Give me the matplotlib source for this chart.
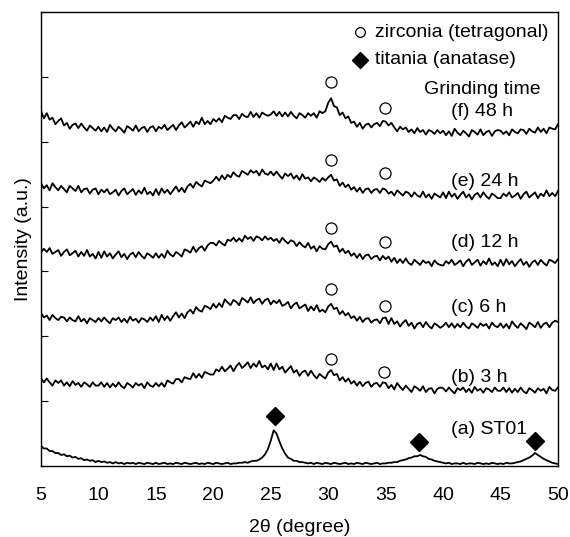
import numpy as np
import matplotlib
matplotlib.use("Agg")
import matplotlib.pyplot as plt

plt.rcParams['font.family'] = ['Liberation Sans', 'DejaVu Sans']

# 2-theta grid: 5.00 .. 50.00 every 0.25 degree
two_theta = np.arange(181) * 0.25 + 5.0

curve_a = [
    0.31,0.27,0.27,0.23,0.23,0.20,0.20,0.17,0.18,0.15,0.16,0.13,0.14,0.11,0.12,0.09,0.10,0.08,0.09,0.06,
    0.08,0.06,0.07,0.05,0.06,0.04,0.06,0.04,0.05,0.03,0.05,0.04,0.05,0.03,0.05,0.04,0.03,0.05,0.04,0.03,
    0.05,0.03,0.04,0.05,0.03,0.04,0.03,0.05,0.04,0.03,0.05,0.04,0.03,0.04,0.05,0.03,0.04,0.03,0.05,0.04,
    0.03,0.05,0.04,0.03,0.04,0.05,0.03,0.04,0.04,0.05,0.05,0.06,0.05,0.07,0.08,0.08,0.10,0.13,0.18,0.26,
    0.39,0.55,0.50,0.38,0.27,0.19,0.13,0.11,0.08,0.08,0.06,0.06,0.05,0.04,0.05,0.03,0.05,0.04,0.03,0.05,
    0.04,0.03,0.05,0.04,0.03,0.04,0.05,0.03,0.04,0.03,0.05,0.04,0.03,0.05,0.04,0.03,0.04,0.05,0.03,0.04,
    0.04,0.05,0.05,0.06,0.06,0.08,0.09,0.10,0.12,0.13,0.15,0.15,0.17,0.15,0.14,0.11,0.10,0.08,0.07,0.06,
    0.05,0.04,0.05,0.03,0.04,0.04,0.03,0.05,0.03,0.04,0.04,0.03,0.05,0.04,0.03,0.04,0.03,0.05,0.04,0.03,
    0.04,0.03,0.05,0.04,0.04,0.05,0.06,0.07,0.09,0.11,0.13,0.16,0.20,0.17,0.14,0.11,0.09,0.07,0.05,0.04,
    0.03]

curve_b = [
    1.35,1.29,1.35,1.29,1.24,1.32,1.28,1.32,1.24,1.29,1.23,1.31,1.25,1.28,1.22,1.29,1.26,1.22,1.29,1.24,
    1.24,1.29,1.22,1.28,1.21,1.27,1.22,1.29,1.23,1.20,1.28,1.25,1.21,1.28,1.24,1.27,1.20,1.29,1.24,1.22,
    1.28,1.23,1.28,1.22,1.32,1.29,1.27,1.34,1.34,1.29,1.37,1.35,1.34,1.43,1.36,1.42,1.36,1.45,1.43,1.41,
    1.41,1.49,1.46,1.53,1.46,1.50,1.55,1.46,1.54,1.59,1.51,1.55,1.60,1.51,1.58,1.53,1.62,1.52,1.55,1.49,
    1.58,1.48,1.58,1.49,1.53,1.44,1.49,1.54,1.44,1.48,1.39,1.45,1.47,1.39,1.47,1.40,1.35,1.42,1.38,1.35,
    1.44,1.48,1.40,1.42,1.32,1.37,1.30,1.35,1.27,1.31,1.24,1.30,1.23,1.28,1.30,1.22,1.27,1.28,1.22,1.29,
    1.28,1.20,1.25,1.18,1.28,1.22,1.17,1.24,1.19,1.14,1.23,1.20,1.16,1.23,1.14,1.19,1.20,1.12,1.19,1.21,
    1.20,1.15,1.21,1.16,1.12,1.20,1.17,1.21,1.14,1.19,1.13,1.22,1.16,1.19,1.13,1.20,1.18,1.14,1.21,1.16,
    1.16,1.21,1.14,1.20,1.13,1.19,1.14,1.21,1.15,1.12,1.20,1.17,1.13,1.20,1.16,1.19,1.12,1.22,1.17,1.16,
    1.21]

curve_c = [
    2.36,2.29,2.32,2.25,2.33,2.28,2.25,2.30,2.29,2.23,2.29,2.25,2.23,2.31,2.23,2.27,2.20,2.28,2.25,2.22,
    2.28,2.23,2.29,2.24,2.20,2.28,2.25,2.29,2.22,2.27,2.21,2.30,2.24,2.27,2.21,2.28,2.26,2.22,2.29,2.24,
    2.31,2.22,2.33,2.25,2.31,2.24,2.31,2.37,2.29,2.35,2.28,2.37,2.41,2.35,2.45,2.40,2.38,2.47,2.45,2.42,
    2.50,2.44,2.51,2.45,2.57,2.52,2.48,2.56,2.53,2.48,2.59,2.56,2.52,2.60,2.51,2.56,2.58,2.50,2.56,2.58,
    2.49,2.55,2.51,2.56,2.47,2.49,2.53,2.43,2.49,2.52,2.43,2.46,2.49,2.39,2.46,2.40,2.48,2.38,2.41,2.37,
    2.46,2.50,2.42,2.44,2.34,2.39,2.32,2.36,2.28,2.31,2.24,2.30,2.22,2.27,2.28,2.21,2.25,2.26,2.20,2.28,
    2.29,2.19,2.28,2.19,2.23,2.15,2.21,2.25,2.16,2.21,2.12,2.19,2.21,2.14,2.22,2.16,2.12,2.20,2.17,2.13,
    2.16,2.21,2.14,2.20,2.13,2.19,2.14,2.21,2.15,2.12,2.20,2.17,2.13,2.20,2.16,2.19,2.12,2.21,2.16,2.14,
    2.20,2.13,2.19,2.12,2.23,2.17,2.13,2.20,2.16,2.11,2.21,2.18,2.14,2.22,2.13,2.19,2.21,2.14,2.21,2.24,
    2.22]

curve_d = [
    3.29,3.35,3.30,3.36,3.27,3.30,3.33,3.24,3.30,3.34,3.25,3.28,3.32,3.23,3.30,3.24,3.33,3.23,3.27,3.20,
    3.30,3.21,3.31,3.23,3.28,3.20,3.26,3.31,3.22,3.27,3.19,3.26,3.29,3.22,3.30,3.24,3.20,3.28,3.25,3.21,
    3.28,3.21,3.27,3.21,3.32,3.26,3.23,3.30,3.27,3.23,3.34,3.32,3.29,3.38,3.30,3.36,3.39,3.32,3.40,3.44,
    3.44,3.40,3.47,3.43,3.40,3.49,3.47,3.52,3.46,3.51,3.46,3.55,3.50,3.53,3.47,3.54,3.52,3.48,3.54,3.49,
    3.52,3.47,3.50,3.44,3.52,3.47,3.43,3.48,3.46,3.39,3.45,3.40,3.37,3.44,3.35,3.39,3.31,3.39,3.35,3.34,
    3.42,3.46,3.38,3.40,3.30,3.35,3.28,3.32,3.24,3.28,3.21,3.27,3.19,3.25,3.26,3.19,3.23,3.24,3.17,3.24,
    3.19,3.23,3.15,3.21,3.13,3.19,3.13,3.20,3.13,3.10,3.18,3.14,3.10,3.17,3.13,3.15,3.08,3.17,3.12,3.10,
    3.09,3.16,3.12,3.18,3.10,3.13,3.17,3.08,3.15,3.19,3.10,3.14,3.18,3.09,3.16,3.11,3.20,3.10,3.14,3.08,
    3.18,3.09,3.19,3.11,3.16,3.08,3.14,3.19,3.10,3.15,3.07,3.14,3.17,3.10,3.18,3.13,3.09,3.18,3.16,3.13,
    3.19]

curve_e = [
    4.36,4.28,4.33,4.25,4.36,4.30,4.25,4.32,4.27,4.22,4.32,4.28,4.24,4.32,4.22,4.27,4.28,4.20,4.26,4.28,
    4.19,4.26,4.22,4.27,4.19,4.22,4.26,4.17,4.24,4.28,4.19,4.23,4.27,4.18,4.25,4.20,4.29,4.19,4.23,4.17,
    4.27,4.18,4.28,4.21,4.26,4.19,4.25,4.31,4.23,4.29,4.22,4.31,4.35,4.29,4.38,4.34,4.31,4.40,4.38,4.36,
    4.40,4.46,4.40,4.48,4.42,4.49,4.45,4.53,4.48,4.46,4.55,4.52,4.49,4.56,4.52,4.55,4.48,4.57,4.51,4.49,
    4.54,4.48,4.54,4.48,4.43,4.51,4.47,4.51,4.43,4.48,4.41,4.50,4.43,4.45,4.39,4.45,4.42,4.38,4.44,4.40,
    4.45,4.49,4.40,4.42,4.32,4.37,4.30,4.34,4.26,4.30,4.23,4.29,4.21,4.27,4.28,4.21,4.26,4.27,4.21,4.28,
    4.26,4.20,4.23,4.17,4.25,4.21,4.17,4.23,4.21,4.15,4.22,4.17,4.15,4.23,4.14,4.19,4.12,4.20,4.17,4.14,
    4.22,4.13,4.23,4.15,4.20,4.12,4.18,4.23,4.14,4.19,4.11,4.18,4.21,4.14,4.22,4.16,4.12,4.20,4.17,4.13,
    4.13,4.20,4.16,4.22,4.14,4.17,4.21,4.12,4.19,4.23,4.14,4.18,4.22,4.13,4.20,4.16,4.25,4.16,4.21,4.16,
    4.24]

curve_f = [
    5.48,5.36,5.44,5.34,5.37,5.27,5.32,5.36,5.25,5.29,5.20,5.26,5.28,5.21,5.28,5.22,5.17,5.25,5.21,5.17,
    5.23,5.16,5.22,5.15,5.26,5.20,5.16,5.23,5.19,5.14,5.24,5.21,5.17,5.25,5.16,5.21,5.23,5.15,5.22,5.24,
    5.16,5.23,5.20,5.26,5.18,5.22,5.26,5.18,5.25,5.30,5.22,5.26,5.31,5.23,5.31,5.27,5.37,5.27,5.32,5.27,
    5.35,5.31,5.36,5.30,5.40,5.37,5.35,5.41,5.41,5.35,5.43,5.39,5.38,5.46,5.38,5.44,5.37,5.45,5.42,5.40,
    5.42,5.47,5.40,5.46,5.39,5.45,5.39,5.46,5.40,5.36,5.44,5.41,5.37,5.44,5.40,5.44,5.37,5.47,5.44,5.47,
    5.60,5.67,5.55,5.53,5.41,5.45,5.36,5.39,5.29,5.31,5.23,5.29,5.20,5.26,5.28,5.22,5.27,5.29,5.24,5.32,
    5.31,5.25,5.29,5.22,5.16,5.23,5.19,5.22,5.15,5.19,5.13,5.21,5.15,5.18,5.11,5.18,5.16,5.12,5.18,5.13,
    5.17,5.10,5.16,5.09,5.20,5.14,5.10,5.17,5.13,5.08,5.18,5.15,5.11,5.19,5.10,5.15,5.17,5.09,5.16,5.18,
    5.17,5.12,5.16,5.10,5.19,5.15,5.13,5.19,5.18,5.12,5.20,5.16,5.14,5.22,5.15,5.20,5.13,5.22,5.20,5.19,
    5.27]

curves = [curve_a, curve_b, curve_c, curve_d, curve_e, curve_f]
curve_labels = ["(a) ST01", "(b) 3 h", "(c) 6 h", "(d) 12 h", "(e) 24 h", "(f) 48 h"]
label_x = [40.7, 40.7, 40.7, 40.7, 40.7, 40.7]
label_y = [0.57, 1.37, 2.44, 3.44, 4.38, 5.46]

# zirconia (tetragonal) reflections: x, y
zr_x = [30.24, 34.86, 30.24, 34.9, 30.24, 34.9, 30.24, 34.9, 30.24, 34.9]
zr_y = [1.65, 1.45, 2.73, 2.47, 3.67, 3.45, 4.72, 4.52, 5.92, 5.52]
# titania (anatase) reflections
ti_x = [25.37, 37.9, 48.0]
ti_y = [0.77, 0.37, 0.39]

x_ticks = [5, 10, 15, 20, 25, 30, 35, 40, 45, 50]

fig = plt.figure(figsize=(5.70, 5.37), dpi=100)
ax = fig.add_axes([41/570, 1-466/537, 517/570, 454/537])

for c in curves:
    ax.plot(two_theta, c, color='black', lw=1.3)

ax.plot(zr_x, zr_y, 'o', ms=8, mfc='white', mec='black', mew=0.9, ls='none')
ax.plot(ti_x, ti_y, 'D', ms=9, mfc='black', mec='black', ls='none')

for lab, lx, ly in zip(curve_labels, label_x, label_y):
    ax.text(lx, ly, lab, fontsize=14, ha='left', va='center')
ax.text(43.4, 5.80, "Grinding time", fontsize=14, ha='center', va='center')

# legend (drawn as markers + text inside the axes)
ax.plot([32.77], [6.69], 'o', ms=7, mfc='white', mec='black', mew=0.9)
ax.plot([32.77], [6.26], 'D', ms=8, mfc='black', mec='black')
ax.text(34.1, 6.69, "zirconia (tetragonal)", fontsize=14, ha='left', va='center')
ax.text(34.1, 6.26, "titania (anatase)", fontsize=14, ha='left', va='center')

ax.set_xlim(5, 50)
ax.set_ylim(0, 7)
ax.set_xticks(x_ticks)
ax.set_xticklabels([str(t) for t in x_ticks], fontsize=14)
ax.tick_params(axis='x', length=0, pad=15)
ax.set_yticks(range(0, 8))
ax.set_yticklabels([])
ax.tick_params(axis='y', direction='in', length=5, width=0.8)
for s in ax.spines.values():
    s.set_linewidth(1.0)

ax.set_xlabel("2θ (degree)", fontsize=14, labelpad=11)
ax.set_ylabel("Intensity (a.u.)", fontsize=14, labelpad=3)

fig.savefig("out.png", dpi=100)
